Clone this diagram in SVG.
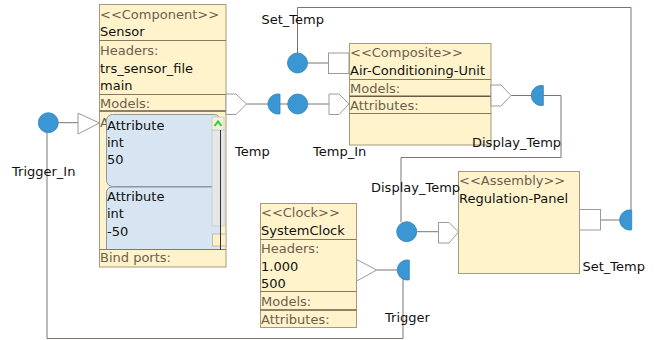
<svg xmlns="http://www.w3.org/2000/svg" width="661" height="340" viewBox="0 0 661 340">
<style>
text{font-family:"DejaVu Sans",Verdana,sans-serif;font-size:13px;fill:#111}
.st{fill:#6e5e4c}
.lb{fill:#6e5e4c}
.box{fill:#fff3cc;stroke:#a8987f;stroke-width:1}
.sep{stroke:#8a7760;stroke-width:1;fill:none}
.sep2{stroke:#6e5a44;stroke-width:1.4;fill:none}
.port{fill:#fff;stroke:#9a9a9a;stroke-width:1}
.dot{fill:#3a97d4;stroke:#2d7db3;stroke-width:0.8}
.wire{fill:none;stroke:#7d7470;stroke-width:1}
.attr{fill:#d7e4f2;stroke:#8a98a6;stroke-width:1}
</style>
<defs>
<clipPath id="clipA"><rect x="99" y="111" width="7.5" height="30"/></clipPath>
</defs>
<g id="connectors">
<polyline class="wire" points="297.5,53 297.5,7.5 631,7.5 631,210"/>
<polyline class="wire" points="543.3,95.5 561,95.5 561,157.5 401,157.5 401,222"/>
<polyline class="wire" points="403,279 403,338.5 47,338.5 47,133"/>
<line class="wire" x1="246.5" y1="104" x2="268" y2="104"/>
<line class="wire" x1="280" y1="104" x2="288" y2="104"/>
<line class="wire" x1="307.7" y1="104" x2="329" y2="104"/>
<line class="wire" x1="307.5" y1="63" x2="328.5" y2="63"/>
<line class="wire" x1="511" y1="95.5" x2="532" y2="95.5"/>
<line class="wire" x1="416.7" y1="231.7" x2="438.5" y2="231.7"/>
<line class="wire" x1="600.5" y1="220" x2="620" y2="220"/>
<line class="wire" x1="376.7" y1="270" x2="397" y2="270"/>
<line class="wire" x1="58.3" y1="122.7" x2="78" y2="122.7"/>
</g>
<g id="sensor">
<rect class="box" x="99.5" y="4.5" width="126.5" height="262.5"/>
<line class="sep" x1="99.5" y1="40.5" x2="226" y2="40.5"/>
<line class="sep" x1="99.5" y1="94.5" x2="226" y2="94.5"/>
<line class="sep2" x1="99.5" y1="111" x2="226" y2="111"/>
<line class="sep" x1="99.5" y1="249.5" x2="226" y2="249.5"/>
<text class="st" x="100" y="19">&lt;&lt;Component&gt;&gt;</text>
<text x="100" y="36">Sensor</text>
<text class="lb" x="100" y="55">Headers:</text>
<text x="100" y="72.5">trs_sensor_file</text>
<text x="100" y="90">main</text>
<text class="lb" x="100" y="108">Models:</text>
<text class="lb" x="100" y="127" clip-path="url(#clipA)">A</text>
<rect class="attr" x="106.5" y="114.5" width="114" height="72" rx="6"/>
<path class="attr" d="M106.5,249 V193 Q106.5,187 112.5,187 H214.5 Q220.5,187 220.5,193 V249"/>
<text x="107" y="130">Attribute</text>
<text x="107" y="147">int</text>
<text x="107" y="164">50</text>
<text x="107" y="201">Attribute</text>
<text x="107" y="218">int</text>
<text x="107" y="236">-50</text>
<rect x="212" y="130" width="13" height="96" fill="#e4e6e8" stroke="#c8c8c8" stroke-width="0.8"/>
<rect x="212" y="117" width="12" height="13" fill="#f4f1dc" stroke="#c8c8b8" stroke-width="0.8"/>
<path d="M214.5,126 L218,121.5 L221.5,126" fill="none" stroke="#33cc33" stroke-width="2"/>
<rect x="212.5" y="234" width="13.5" height="12" fill="#fdf0c8" stroke="#b8b0a0" stroke-width="0.8"/>
<line x1="220.5" y1="130" x2="220.5" y2="250" stroke="#333" stroke-width="1"/>
<text class="lb" x="100" y="262">Bind ports:</text>
<path class="port" d="M226,94 H236 L246.5,104 L236,114.5 H226 Z"/>
<polygon class="port" points="78,113.2 99.5,123 78,134"/>
</g>
<g id="trigger-in">
<circle class="dot" cx="48.3" cy="122.7" r="10"/>
<text x="12" y="176">Trigger_In</text>
</g>
<g id="temp">
<path class="dot" d="M280,94.2 A10,10 0 1 0 280,113.8 Z"/>
<text x="235" y="156">Temp</text>
</g>
<g id="temp-in">
<circle class="dot" cx="297.7" cy="104" r="10"/>
<text x="313" y="156">Temp_In</text>
</g>
<g id="set-temp-in">
<circle class="dot" cx="297.5" cy="63" r="10"/>
<text x="261.5" y="24">Set_Temp</text>
</g>
<g id="air-conditioning-unit">
<rect class="box" x="349.5" y="43.5" width="141.5" height="101.5"/>
<line class="sep" x1="349.5" y1="79.5" x2="491" y2="79.5"/>
<line class="sep2" x1="349.5" y1="96.2" x2="491" y2="96.2"/>
<line class="sep" x1="349.5" y1="113.5" x2="491" y2="113.5"/>
<text class="st" x="350" y="56.7">&lt;&lt;Composite&gt;&gt;</text>
<text x="350" y="75">Air-Conditioning-Unit</text>
<text class="lb" x="350" y="92.7">Models:</text>
<text class="lb" x="350" y="110">Attributes:</text>
<rect class="port" x="328.5" y="53" width="20.5" height="20.5"/>
<path class="port" d="M329,94 H339 L349,104 L339,114.5 H329 Z"/>
<path class="port" d="M491,85 H501 L511,95.5 L501,106 H491 Z"/>
</g>
<g id="display-temp-out">
<path class="dot" d="M543.3,85.7 A10,10 0 1 0 543.3,105.3 Z"/>
<text x="472" y="147">Display_Temp</text>
</g>
<g id="regulation-panel">
<rect class="box" x="458.5" y="171.5" width="121" height="102"/>
<text class="st" x="459" y="185">&lt;&lt;Assembly&gt;&gt;</text>
<text x="459" y="203">Regulation-Panel</text>
<path class="port" d="M438.5,222.5 H449 L458.5,232 L449,243 H438.5 Z"/>
<rect class="port" x="579.5" y="209.5" width="21" height="20.5"/>
</g>
<g id="display-temp-in">
<circle class="dot" cx="406.7" cy="231.7" r="10"/>
<text x="371" y="192">Display_Temp</text>
</g>
<g id="set-temp-out">
<path class="dot" d="M631.7,210.2 A10,10 0 1 0 631.7,229.8 Z"/>
<text x="582.5" y="271">Set_Temp</text>
</g>
<g id="system-clock">
<rect class="box" x="260.5" y="203.5" width="96" height="124"/>
<line class="sep" x1="260.5" y1="239.5" x2="356.5" y2="239.5"/>
<line class="sep" x1="260.5" y1="291.5" x2="356.5" y2="291.5"/>
<line class="sep2" x1="260.5" y1="310" x2="356.5" y2="310"/>
<text class="st" x="261" y="216.7">&lt;&lt;Clock&gt;&gt;</text>
<text x="261" y="235">SystemClock</text>
<text class="lb" x="261" y="253">Headers:</text>
<text x="261" y="270.7">1.000</text>
<text x="261" y="288">500</text>
<text class="lb" x="261" y="306">Models:</text>
<text class="lb" x="261" y="324">Attributes:</text>
<polygon class="port" points="356.7,259.5 376.7,270 356.7,281"/>
</g>
<g id="trigger">
<path class="dot" d="M409.3,260.2 A10,10 0 1 0 409.3,279.8 Z"/>
<text x="385" y="322">Trigger</text>
</g>
</svg>
